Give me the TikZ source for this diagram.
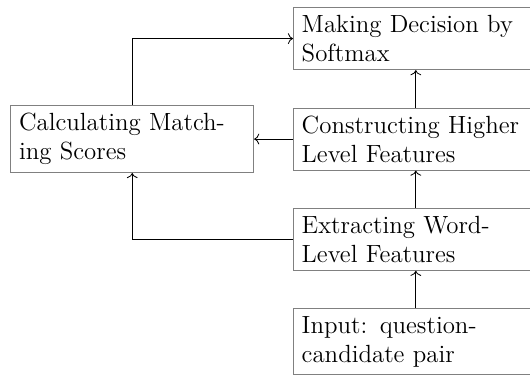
\documentclass[tikz,border=0pt]{standalone}
\usepackage{tikz}
\usetikzlibrary{positioning,arrows.meta}
\tikzset{
  stage/.style={draw=gray, thin, align=left, font=\large, text width=3.87cm,
                inner xsep=0.3333em, inner ysep=0.31em},
  widestage/.style={stage, text width=3.84cm},
  flow/.style={->, thin, black}
}

\begin{document}
\large
\begin{tikzpicture}[node distance=0.635cm]
\useasboundingbox (0,0) rectangle (8.99,-6.41);
% pipeline column, top to bottom
\node[stage, anchor=north] (decide) at (7.053,-0.12) {Making Decision by\\Softmax};
\node[stage, below=of decide] (higher) {Constructing Higher\\Level Features};
\node[stage, below=of higher] (word) {Extracting Word-\\Level Features};
\node[stage, below=of word] (input) {Input: question-\\candidate pair};
% scoring branch on the left
\node[widestage, left=0.66cm of higher] (match) {Calculating Match-\\ing Scores};
\draw[flow] (input) -- (word);
\draw[flow] (word) -- (higher);
\draw[flow] (higher) -- (decide);
\draw[flow] (higher) -- (match);
\draw[flow] (word.west) -| (match.south);
\draw[flow] (match.north) |- (decide.west);
\end{tikzpicture}
\end{document}
